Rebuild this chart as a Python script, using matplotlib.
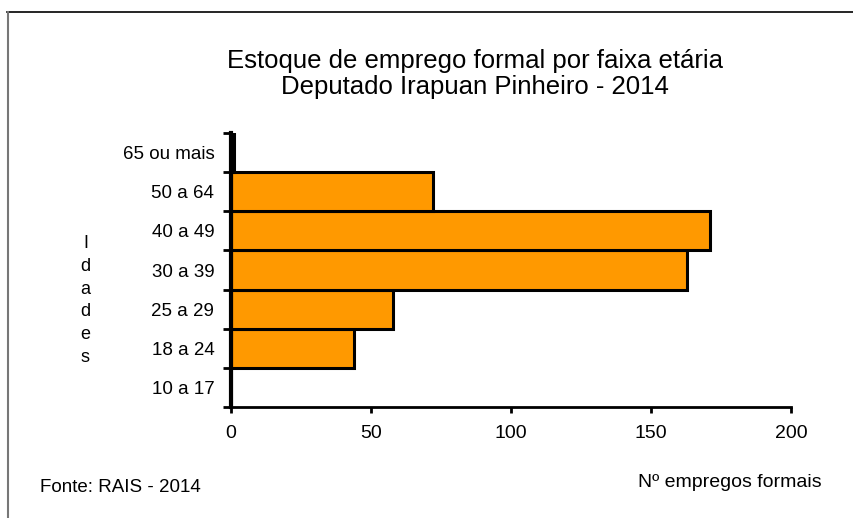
import numpy as np
import matplotlib
matplotlib.use("Agg")
import matplotlib.pyplot as plt
from matplotlib.lines import Line2D

plt.rcParams['font.family'] = ['Liberation Sans', 'DejaVu Sans']

# data
faixas = ['10 a 17', '18 a 24', '25 a 29', '30 a 39', '40 a 49', '50 a 64', '65 ou mais']
empregos = [0, 44, 58, 163, 171, 72, 1]
x_ticks = [0, 50, 100, 150, 200]

fig = plt.figure(figsize=(8.54, 5.18), dpi=100)
ax = fig.add_axes([0.2705, 0.2143, 0.6557, 0.5289])

pos = np.arange(len(faixas))
ax.barh(pos, empregos, height=1.0, color='#FF9900', edgecolor='black', linewidth=2.2, zorder=2)

ax.set_xlim(0, 200)
ax.set_ylim(-0.5, len(faixas) - 0.5)
ax.set_xticks(x_ticks)
ax.set_xticklabels([str(v) for v in x_ticks], fontsize=14)
ax.set_yticks(pos)
ax.set_yticklabels(faixas, fontsize=13.5)
ax.set_yticks(np.arange(len(faixas) + 1) - 0.5, minor=True)
ax.tick_params(axis='y', which='major', length=0, pad=12)
ax.tick_params(axis='y', which='minor', length=6, width=2, direction='out')
ax.tick_params(axis='x', length=4, width=2, direction='out', pad=9)

for s in ['top', 'right']:
    ax.spines[s].set_visible(False)
ax.spines['left'].set_linewidth(3)
ax.spines['bottom'].set_linewidth(2)
ax.spines['left'].set_zorder(3)

fig.text(0.556, 0.857, 'Estoque de emprego formal por faixa etária\nDeputado Irapuan Pinheiro - 2014',
         ha='center', va='center', fontsize=18.5, linespacing=1.15)

fig.text(0.1, 0.42, 'I\nd\na\nd\ne\ns', ha='center', va='center', fontsize=13, linespacing=1.45)

fig.text(0.854, 0.069, 'Nº empregos formais', ha='center', va='center', fontsize=14)
fig.text(0.141, 0.058, 'Fonte: RAIS - 2014', ha='center', va='center', fontsize=13.5)

# frame lines (top and left only visible in the reference)
fig.add_artist(Line2D([7 / 854, 1.0], [1 - 12 / 518, 1 - 12 / 518], color='black', lw=1.2))
fig.add_artist(Line2D([8 / 854, 8 / 854], [0, 1 - 12 / 518], color='#777777', lw=1.5))

fig.savefig('out.png', dpi=100)
